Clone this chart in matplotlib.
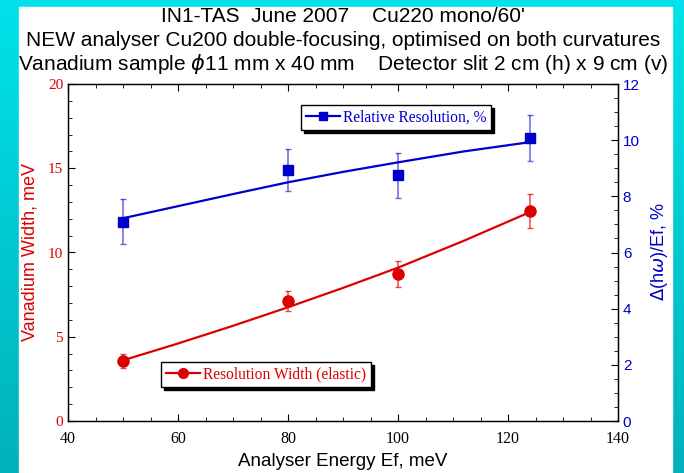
import numpy as np
import matplotlib
matplotlib.use("Agg")
import matplotlib.pyplot as plt
from matplotlib.lines import Line2D
from matplotlib.patches import Rectangle
from matplotlib.ticker import MultipleLocator

# measured points
ef = [50, 80, 100, 124]
width = [3.56, 7.14, 8.72, 12.46]
width_err = [0.4, 0.6, 0.78, 1.0]
rel = [7.09, 8.93, 8.75, 10.07]
rel_err = [0.8, 0.74, 0.8, 0.81]

# fitted curves
fit_x = [50, 60, 70, 80, 90, 100, 112, 124]
width_fit = [3.6, 4.6, 5.65, 6.75, 7.9, 9.1, 10.7, 12.4]
rel_fit = [7.22, 7.65, 8.08, 8.5, 8.87, 9.21, 9.6, 9.93]

title_lines = ["IN1-TAS  June 2007    Cu220 mono/60'",
               "NEW analyser Cu200 double-focusing, optimised on both curvatures",
               "Vanadium sample $\\phi$11 mm x 40 mm    Detector slit 2 cm (h) x 9 cm (v)"]

RED = "#dd0000"
BLUE = "#0000cc"
W, H = 684, 473

fig = plt.figure(figsize=(W / 100, H / 100), dpi=100)

# cyan gradient background + white panel
bg = fig.add_axes([0, 0, 1, 1], zorder=-10)
grad = np.linspace(0, 1, 256).reshape(-1, 1)
top = np.array([0, 226, 234]) / 255
bot = np.array([0, 178, 186]) / 255
img = top[None, None, :] * (1 - grad[:, :, None]) + bot[None, None, :] * grad[:, :, None]
bg.imshow(img, aspect="auto", extent=[0, 1, 0, 1])
bg.add_patch(Rectangle((19 / W, 0), (672 - 19) / W, 1 - 6.7 / H, color="white"))
bg.set_xlim(0, 1)
bg.set_ylim(0, 1)
bg.axis("off")

ax = fig.add_axes([68 / W, 1 - 421 / H, 550 / W, 337 / H])
ax2 = ax.twinx()

ax.plot(fit_x, width_fit, color=RED, lw=1.6, zorder=3)
ax.errorbar(ef, width, yerr=width_err, fmt="none", ecolor=RED, elinewidth=1.1,
            capsize=2.5, alpha=0.7, zorder=2)
ax.plot(ef, width, "o", color=RED, ms=8, zorder=4)

ax2.plot(fit_x, rel_fit, color=BLUE, lw=1.6, zorder=3)
ax2.errorbar(ef, rel, yerr=rel_err, fmt="none", ecolor=BLUE, elinewidth=1.1,
             capsize=2.5, alpha=0.6, zorder=2)
ax2.plot(ef, rel, "s", color=BLUE, ms=7, zorder=4)

ax.set_xlim(40, 140)
ax.set_ylim(0, 20)
ax2.set_ylim(0, 12)
ax.xaxis.set_major_locator(MultipleLocator(20))
ax.xaxis.set_minor_locator(MultipleLocator(5))
ax.yaxis.set_major_locator(MultipleLocator(5))
ax.yaxis.set_minor_locator(MultipleLocator(1))
ax2.yaxis.set_major_locator(MultipleLocator(2))
ax2.yaxis.set_minor_locator(MultipleLocator(0.5))

ax.tick_params(which="both", direction="in", top=True, right=False)
ax.tick_params(which="major", length=5)
ax.tick_params(which="minor", length=3)
ax.tick_params(axis="x", pad=7)
ax2.tick_params(which="both", direction="in")
ax2.tick_params(which="major", length=5)
ax2.tick_params(which="minor", length=3)

for lab in ax.get_xticklabels():
    lab.set_fontfamily("Liberation Serif")
    lab.set_fontsize(11.5)
for lab in ax.get_yticklabels():
    lab.set_fontfamily("Liberation Serif")
    lab.set_fontsize(11)
    lab.set_color(RED)
for lab in ax2.get_yticklabels():
    lab.set_fontfamily("Liberation Sans")
    lab.set_fontsize(11)
    lab.set_color(BLUE)

for sp in ax.spines.values():
    sp.set_linewidth(1.0)

fig.text(30 / W, 1 - 252 / H, "Vanadium Width, meV", rotation=90, color=RED,
         ha="center", va="center", family="Liberation Sans", fontsize=13)
fig.text(659 / W, 1 - 252 / H, "$\\Delta$(h$\\omega$)/Ef, %", rotation=90, color=BLUE,
         ha="center", va="center", family="Liberation Sans", fontsize=13)
fig.text(343 / W, 1 - 461 / H, "Analyser Energy Ef, meV", ha="center", va="center",
         family="Liberation Sans", fontsize=13.5)

for y, t in zip([16, 40, 64], title_lines):
    fig.text(343 / W, 1 - y / H, t, ha="center", va="center",
             family="Liberation Sans", fontsize=15)

serif = {"family": "Liberation Serif", "size": 11.2}
shadow = {"color": "black", "alpha": 1}
h_blue = Line2D([], [], color=BLUE, marker="s", ms=6, lw=1.6)
leg2 = ax2.legend([h_blue], ["Relative Resolution, %"], loc="center",
                  bbox_to_anchor=((396 - 68) / 550, (421 - 117.5) / 337),
                  prop=serif, frameon=True, fancybox=False, shadow=shadow,
                  edgecolor="black", handlelength=2.2, borderpad=0.3,
                  handletextpad=0.2, borderaxespad=0, framealpha=1)
leg2.get_frame().set_linewidth(1.0)
for t in leg2.get_texts():
    t.set_color(BLUE)

h_red = Line2D([], [], color=RED, marker="o", ms=7, lw=1.6)
leg1 = ax2.legend([h_red], ["Resolution Width (elastic)"], loc="center",
                  bbox_to_anchor=((266 - 68) / 550, (421 - 374.5) / 337),
                  prop=serif, frameon=True, fancybox=False, shadow=shadow,
                  edgecolor="black", handlelength=2.2, borderpad=0.3,
                  handletextpad=0.2, borderaxespad=0, framealpha=1)
leg1.get_frame().set_linewidth(1.0)
for t in leg1.get_texts():
    t.set_color(RED)
ax2.add_artist(leg2)

fig.savefig("out.png", dpi=100)
